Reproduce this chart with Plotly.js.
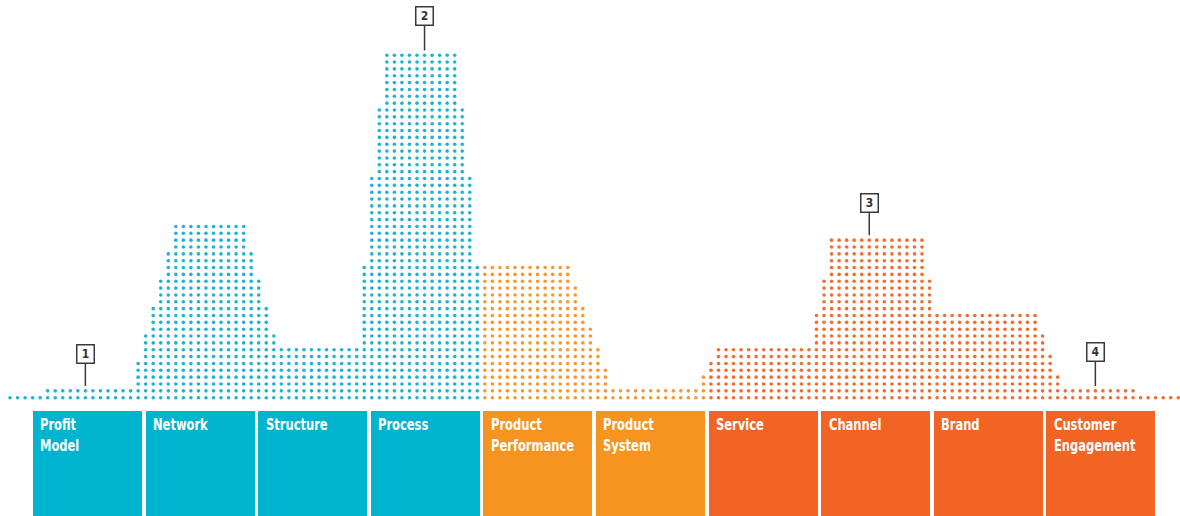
<!DOCTYPE html>
<html>
<head>
<meta charset="utf-8">
<script src="https://cdn.plot.ly/plotly-3.0.1.min.js"></script>
<style>
  html, body { margin: 0; padding: 0; background: #ffffff; }
  #chart { width: 1180px; height: 516px; }
</style>
</head>
<body>
<div id="chart"></div>
<script>
// ---- Data ----
// Dot-column heights (number of dots stacked in each column), left to right, per colour group
const blueHeights = [
  1, 1, 1, 1, 1,
  2, 2, 2, 2, 2, 2, 2, 2, 2, 2, 2, 2,
  6, 10, 14, 18, 22,
  26, 26, 26, 26, 26, 26, 26, 26, 26, 26,
  22, 18, 14, 10,
  8, 8, 8, 8, 8, 8, 8, 8, 8, 8, 8,
  20, 33, 43,
  51, 51, 51, 51, 51, 51, 51, 51, 51, 51,
  43, 33, 20
];
const orangeHeights = [
  20, 20, 20, 20, 20, 20, 20, 20, 20, 20, 20, 20,
  17, 14, 11, 8, 5,
  2, 2, 2, 2, 2, 2, 2, 2, 2, 2, 2, 2,
  4
];
const redHeights = [
  6,
  8, 8, 8, 8, 8, 8, 8, 8, 8, 8, 8, 8, 8,
  13, 18,
  24, 24, 24, 24, 24, 24, 24, 24, 24, 24, 24, 24, 24,
  18,
  13, 13, 13, 13, 13, 13, 13, 13, 13, 13, 13, 13, 13, 13,
  10, 7, 4,
  2, 2, 2, 2, 2, 2, 2, 2, 2, 2,
  1, 1, 1, 1, 1, 1
];

// Category boxes along the bottom
const categories = ["Profit Model", "Network", "Structure", "Process", "Product Performance",
                    "Product System", "Service", "Channel", "Brand", "Customer Engagement"];
const categoryLabels = ["Profit<br>Model", "Network", "Structure", "Process", "Product<br>Performance",
                        "Product<br>System", "Service", "Channel", "Brand", "Customer<br>Engagement"];
const categoryGroup = ["blue", "blue", "blue", "blue", "orange", "orange", "red", "red", "red", "red"];
const boxFill = [1, 1, 1, 1, 1, 1, 1, 1, 1, 1];

// Numbered callouts: label and the dot column they point at
const calloutLabels = ["1", "2", "3", "4"];
const calloutColumns = [10, 55, 114, 144];
const calloutOffsets = [-32, -34, -32, -34];

// ---- Styles ----
const colors = { blue: "#00B3CF", orange: "#F7941F", red: "#F26424" };
const dotColors = { blue: "#1DB4D2", orange: "#F7982B", red: "#F36B2E" };

// ---- Build dot traces ----
const groups = [["blue", blueHeights], ["orange", orangeHeights], ["red", redHeights]];
const allHeights = [];
const traces = [];
let offset = 0;
groups.forEach(([name, heights]) => {
  const xs = [], ys = [];
  heights.forEach((h, i) => {
    for (let r = 1; r <= h; r++) { xs.push(offset + i); ys.push(r); }
    allHeights.push(h);
  });
  offset += heights.length;
  traces.push({
    type: "scatter", mode: "markers", x: xs, y: ys,
    marker: { size: 3.6, color: dotColors[name], line: { width: 0 } },
    hoverinfo: "skip", showlegend: false, xaxis: "x", yaxis: "y"
  });
});

// Category boxes as bars
traces.push({
  type: "bar", x: categories, y: boxFill, width: 0.968,
  marker: { color: categoryGroup.map(g => colors[g]), line: { width: 0 } },
  hoverinfo: "skip", showlegend: false, xaxis: "x2", yaxis: "y2"
});

const labelFont = "'Liberation Sans Narrow', 'Arial Narrow', 'DejaVu Sans Condensed', sans-serif";

const annotations = [];
categoryLabels.forEach((t, k) => {
  annotations.push({
    xref: "x2", yref: "paper", x: k, y: 0.199,
    xanchor: "left", yanchor: "top", xshift: -49,
    text: "<b>" + t + "</b>", showarrow: false, align: "left",
    font: { family: labelFont, size: 16, color: "#ffffff" }
  });
});
calloutLabels.forEach((t, k) => {
  const col = calloutColumns[k];
  annotations.push({
    xref: "x", yref: "y", x: col, y: allHeights[col] + 0.7,
    text: "<b>" + t + "</b>", showarrow: true, arrowhead: 0, arrowwidth: 1.5,
    arrowcolor: "#3a3a3a", ax: 0, ay: calloutOffsets[k], standoff: 0,
    bgcolor: "#ffffff", bordercolor: "#3a3a3a", borderwidth: 1.5, borderpad: 1,
    width: 14, height: 15,
    font: { family: labelFont, size: 12, color: "#333333" }
  });
});

const layout = {
  width: 1180, height: 516,
  margin: { l: 0, r: 0, t: 0, b: 0, pad: 0 },
  paper_bgcolor: "#ffffff", plot_bgcolor: "rgba(0,0,0,0)",
  showlegend: false,
  xaxis: { domain: [0, 1], range: [-1.327, 155.23], visible: false, fixedrange: true },
  yaxis: { domain: [0, 1], range: [-16.27, 59.06], visible: false, fixedrange: true },
  xaxis2: { domain: [0, 1], range: [-0.777, 9.703], type: "category", anchor: "y2",
            visible: false, fixedrange: true },
  yaxis2: { domain: [0, 0.2035], range: [0, 1], anchor: "x2", visible: false, fixedrange: true },
  bargap: 0,
  annotations: annotations
};

Plotly.newPlot("chart", traces, layout, { staticPlot: true, displayModeBar: false }).then(() => {
  // condense the category labels horizontally (reference uses a bold condensed face)
  const groupsEls = document.querySelectorAll("#chart g.annotation");
  groupsEls.forEach((g, i) => {
    if (i < categoryLabels.length) {
      const t = g.querySelector("text");
      if (t) {
        t.style.transformBox = "fill-box";
        t.style.transformOrigin = "left top";
        t.style.transform = "scaleX(0.8)";
      }
    }
  });
});
</script>
</body>
</html>
